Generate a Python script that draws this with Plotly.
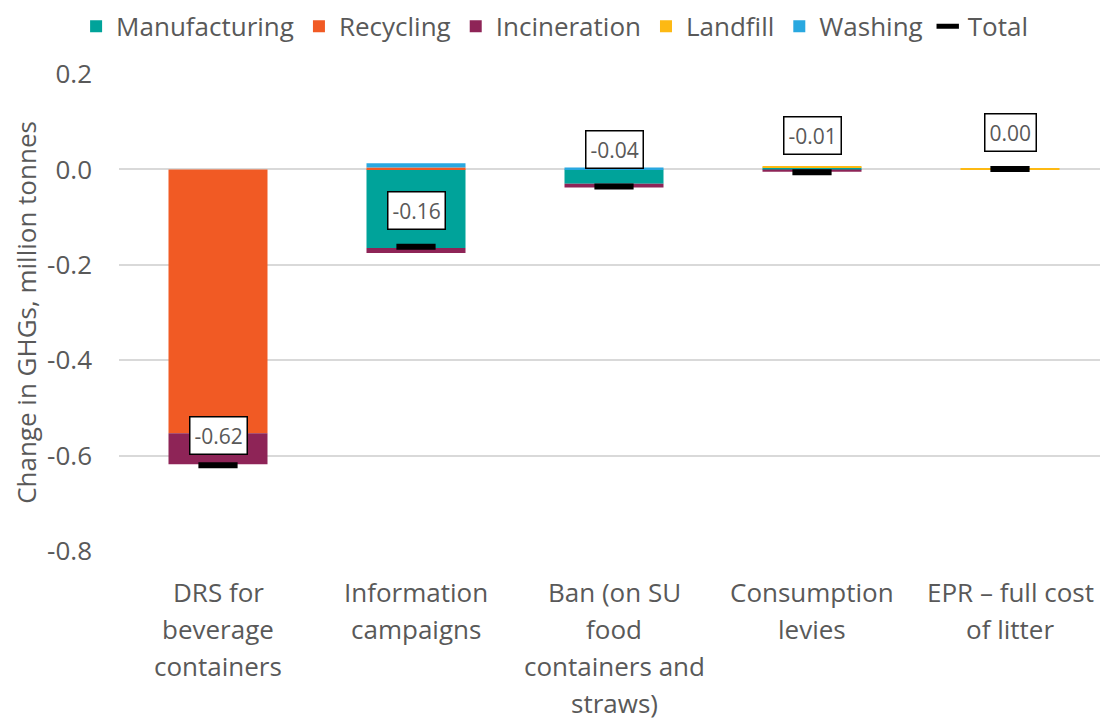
import plotly.graph_objects as go

categories = ["DRS for beverage containers", "Information campaigns",
              "Ban (on SU food containers and straws)", "Consumption levies",
              "EPR – full cost of litter"]
category_lines = [["DRS for", "beverage", "containers"],
                  ["Information", "campaigns"],
                  ["Ban (on SU", "food", "containers and", "straws)"],
                  ["Consumption", "levies"],
                  ["EPR – full cost", "of litter"]]

manufacturing = [0.0, -0.165, -0.030, 0.004, 0.0]
recycling = [-0.553, 0.004, 0.0, 0.0, 0.0]
incineration = [-0.065, -0.010, -0.008, -0.005, 0.0]
landfill = [0.0, 0.0, 0.0, 0.002, 0.002]
washing = [0.0, 0.009, 0.004, 0.0, 0.0]
total = [-0.620, -0.162, -0.036, -0.006, 0.001]

y_ticks = [0.2, 0.0, -0.2, -0.4, -0.6, -0.8]
y_tick_text = ["0.2", "0.0", "-0.2", "-0.4", "-0.6", "-0.8"]

colors = {"Manufacturing": "#00A39A", "Recycling": "#F15A24", "Incineration": "#8E2457",
          "Landfill": "#FDB913", "Washing": "#29A8E0"}
series = {"Manufacturing": manufacturing, "Recycling": recycling, "Incineration": incineration,
          "Landfill": landfill, "Washing": washing}

font = "Open Sans"
grey = "#595959"

fig = go.Figure()
for name, vals in series.items():
    fig.add_trace(go.Bar(x=categories, y=vals, name=name, marker_color=colors[name],
                         marker_line_width=0))

fig.add_trace(go.Scatter(x=categories, y=total, name="Total", mode="markers",
                         marker=dict(symbol="line-ew", size=28, color="black",
                                     line=dict(width=6, color="black"))))

# label boxes above the total markers
label_shift = [30, 36, 37, 37, 36]
for c, v, s in zip(categories, total, label_shift):
    fig.add_annotation(x=c, y=v, text=f"{v:.2f}", showarrow=False, yshift=s,
                       bgcolor="white", bordercolor="black", borderwidth=1.5, borderpad=4,
                       font=dict(size=21, color=grey, family=font))

# category labels, one annotation per line to get Excel-like line spacing
for c, lines in zip(categories, category_lines):
    for i, line in enumerate(lines):
        fig.add_annotation(x=c, y=0, xref="x", yref="paper", text=line, showarrow=False,
                           yshift=-(41 + 37 * i), yanchor="middle",
                           font=dict(size=26, color=grey, family=font))

fig.update_layout(
    width=1101, height=720,
    barmode="relative", bargap=0.5,
    plot_bgcolor="white", paper_bgcolor="white",
    margin=dict(l=111, r=0, t=66, b=177, autoexpand=False),
    font=dict(family=font, color=grey, size=24),
    legend=dict(orientation="h", x=0.44, y=1.10,
                xanchor="center", yanchor="middle", font=dict(size=26, color=grey),
                traceorder="normal", itemwidth=30),
    yaxis=dict(range=[-0.8, 0.2], tickvals=y_ticks, ticktext=y_tick_text, showgrid=True,
               gridcolor="#D9D9D9", gridwidth=1.5, zeroline=False,
               tickfont=dict(size=26, color=grey), ticklabelstandoff=26,
               title=dict(text="Change in GHGs, million tonnes", font=dict(size=26, color=grey),
                          standoff=10)),
    xaxis=dict(showline=False, showticklabels=False),
)

fig.write_html("out.html")
